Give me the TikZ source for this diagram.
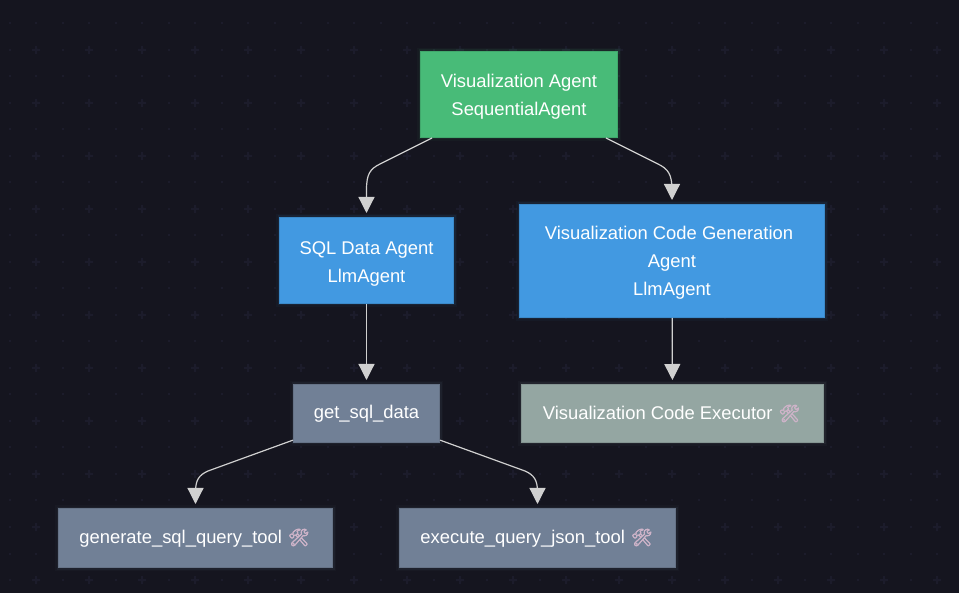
\documentclass[tikz,border=0pt]{standalone}
\usepackage{fontspec}
\setmainfont{Liberation Sans}
\newfontfamily\emojifont[FakeBold=2.5]{Noto Emoji}
\usetikzlibrary{arrows.meta}
\definecolor{pagebg}{HTML}{15151F}
\definecolor{gridmark}{HTML}{1C1C2B}
\definecolor{flowline}{HTML}{D0D0D0}
\definecolor{agentgreen}{HTML}{48BB78}
\definecolor{agentblue}{HTML}{4299E1}
\definecolor{toolslate}{HTML}{718096}
\definecolor{toolsage}{HTML}{94A6A2}
\definecolor{toolicon}{HTML}{CDB3C8}
\newcommand{\toolmark}{\hspace{6pt}{\emojifont\fontsize{17}{28}\selectfont\textcolor{toolicon}{\symbol{"1F6E0}}}\kern2pt}
\tikzset{>={Triangle[width=16pt,length=16pt]}}
\tikzset{
  glow/.style={preaction={draw=#1,line width=7pt,opacity=.04},preaction={draw=#1,line width=4pt,opacity=.08}},
  box/.style={rectangle,draw=#1!90!black,line width=1pt,fill=#1,glow=#1,text=white,inner sep=0pt,align=center,font=\fontsize{18.4}{28}\selectfont},
  flow/.style={->,draw=flowline,line width=1.2pt,shorten >=4pt},
}
\begin{document}
\begin{tikzpicture}[x=1pt,y=-1pt]
    \useasboundingbox[fill=pagebg] (0,0) rectangle (959,593);
    % background marks
    \foreach \i in {0,...,36}
        \foreach \j in {0,...,22}
            \fill[gridmark] (9.5+26.5*\i-1,23.5+26.5*\j-1) rectangle +(2,2);
    \foreach \i in {0,...,18}
        \foreach \j in {0,...,10}
            \fill[gridmark] (36+53*\i-1,50+53*\j-4) rectangle +(2,8) (36+53*\i-4,50+53*\j-1) rectangle +(8,2);
    % agents
    \node[box=agentgreen,minimum width=197pt,minimum height=86pt,text height=45.4pt] (viz) at (519,94.5) {Visualization Agent\\SequentialAgent};
    \node[box=agentblue,minimum width=174pt,minimum height=86pt,text height=47.4pt] (sql) at (366.5,260.5) {SQL Data Agent\\LlmAgent};
    \node[box=agentblue,minimum width=305pt,minimum height=113pt,text height=73.4pt] (code) at (672,261) {Visualization Code Generation\kern6pt\\Agent\\LlmAgent};
    % tools
    \node[box=toolslate,minimum width=146pt,minimum height=58pt] (getsql) at (366.5,413.5) {get\_sql\_data};
    \node[box=toolsage,minimum width=302pt,minimum height=58pt] (exec) at (672.5,413.5) {Visualization Code Executor\toolmark};
    \node[box=toolslate,minimum width=274pt,minimum height=59pt] (gen) at (195.5,538) {generate\_sql\_query\_tool\toolmark};
    \node[box=toolslate,minimum width=276pt,minimum height=59pt] (query) at (537.5,538) {execute\_query\_json\_tool\toolmark};
    % bends
    \coordinate (vizL) at (380,164);
    \coordinate (vizR) at (658,164);
    \coordinate (getL) at (208,471);
    \coordinate (getR) at (525,471);
    % connectors
    \draw[flow] (viz) -- (vizL) .. controls (370,169) and (366.5,174) .. (366.5,190) -- (sql);
    \draw[flow] (viz) -- (vizR) .. controls (668,169) and (672,174) .. (672,190) -- (code);
    \draw[flow] (sql) -- (getsql);
    \draw[flow] (code) -- (exec);
    \draw[flow] (getsql) -- (getL) .. controls (199,475) and (195.5,480) .. (195.5,492) -- (gen);
    \draw[flow] (getsql) -- (getR) .. controls (534,475) and (537.5,480) .. (537.5,492) -- (query);
\end{tikzpicture}
\end{document}
